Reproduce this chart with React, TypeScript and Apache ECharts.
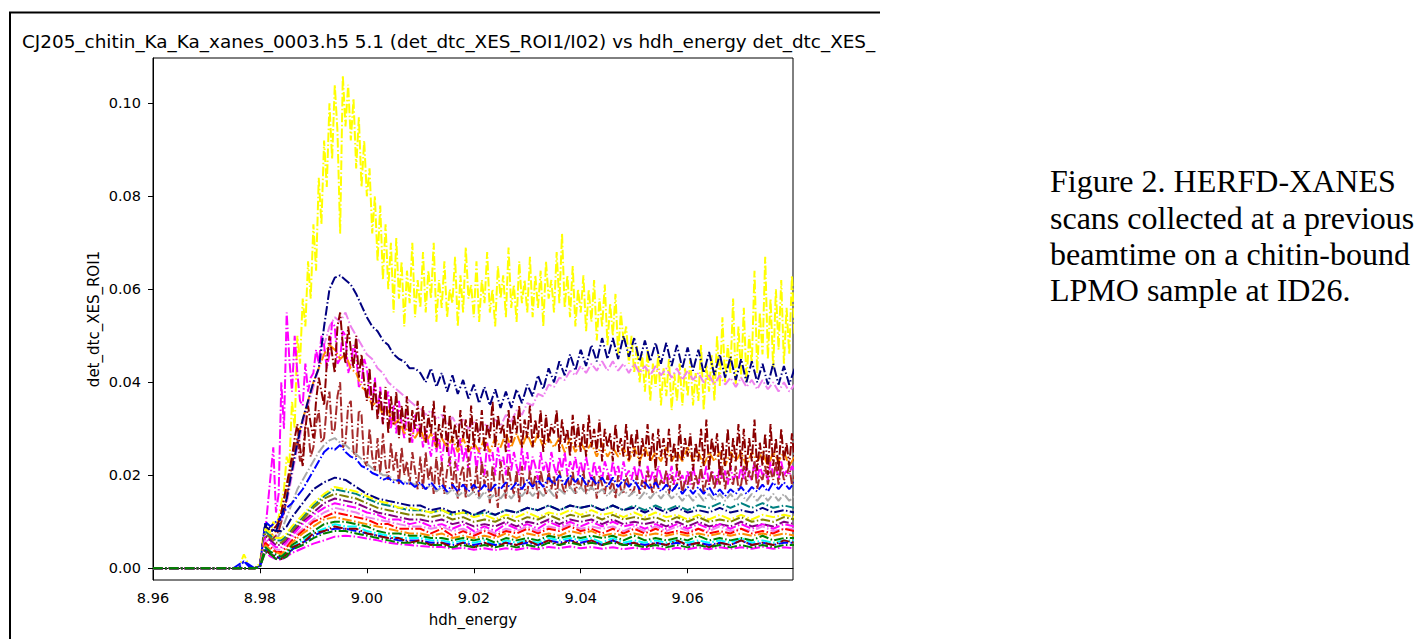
import React, { useEffect, useRef } from "react";
import * as echarts from "echarts";

// ---------- energy grids (keV) ----------
const edgePrefix = [8.96, 8.975, 8.976, 8.977, 8.978, 8.979, 8.98];
const halfEnergy: number[] = [...edgePrefix];
for (let i = 0; i <= 199; i++) halfEnergy.push(Math.round((8.9805 + i * 0.0005) * 10000) / 10000);
const fineEnergy: number[] = [8.96, 8.975];
for (let i = 0; i <= 104; i++) fineEnergy.push(Math.round((8.976 + i * 0.001) * 1000) / 1000);
const coarseEnergy: number[] = [8.96, 8.975, 8.977, 8.979, 8.98, 8.981, 8.982, 8.983, 8.984, 8.985];
for (let i = 0; i <= 47; i++) coarseEnergy.push(Math.round((8.986 + i * 0.002) * 1000) / 1000);

// ---------- tick labels ----------
const xTicks = [8.96, 8.98, 9.0, 9.02, 9.04, 9.06];
const yTicks = [0, 0.02, 0.04, 0.06, 0.08, 0.1];

// ---------- half-step scans (values in units of 1e-3) ----------
const yellowScan = [
  0, 0, 0, 3, 0.5, 0, 1,
  6, 9, 8, 8, 10, 9, 11, 14, 17, 24, 22, 36, 30, 50, 44, 58, 52, 66, 58, 74,
  64, 84, 74, 92, 82, 100, 88, 104, 94, 72, 106, 95, 104, 92, 101, 86, 97, 82, 92, 80,
  86, 72, 80, 66, 78, 62, 74, 60, 70, 55, 71, 58, 66, 52, 64, 57, 70, 54, 62, 56,
  68, 55, 64, 58, 70, 53, 62, 56, 66, 54, 60, 57, 67, 52, 63, 55, 69, 58, 61, 54,
  66, 53, 62, 57, 68, 55, 60, 52, 65, 58, 63, 54, 69, 56, 61, 53, 66, 57, 62, 55,
  67, 54, 63, 56, 64, 52, 66, 58, 62, 55, 68, 57, 72, 56, 63, 54, 65, 52, 60, 55,
  63, 51, 60, 53, 62, 49, 58, 52, 61, 48, 57, 50, 59, 46, 55, 49, 52, 44, 50, 42,
  48, 40, 46, 38, 47, 36, 44, 39, 46, 35, 43, 37, 45, 34, 42, 36, 44, 35, 43, 37,
  45, 35, 42, 36, 48, 34, 44, 38, 46, 36, 50, 39, 54, 40, 48, 42, 58, 39, 52, 41,
  56, 40, 50, 44, 64, 42, 55, 46, 67, 45, 58, 43, 60, 47, 62, 44, 56, 46, 63, 50,
];
const darkredScan = [
  0, 0, 0, 0, 0, 0, 0.5,
  5, 9, 8.5, 8, 8.5, 9, 10, 12, 15, 18, 21, 24, 28, 31, 26, 22, 30, 35, 31, 28,
  36, 41, 38, 35, 44, 50, 46, 42, 52, 55, 48, 44, 52, 47, 43, 50, 41, 46, 40, 36,
  43, 34, 40, 32, 38, 31, 39, 29, 37, 31, 38, 28, 35, 30, 37, 27, 34, 30, 36, 28,
  35, 27, 33, 29, 36, 26, 31, 28, 35, 25, 33, 27, 31, 26, 34, 28, 32, 25, 35, 26,
  32, 27, 34, 25, 31, 28, 36, 26, 33, 29, 31, 25, 34, 27, 33, 29, 35, 26, 32, 28,
  35, 26, 32, 28, 34, 25, 33, 27, 31, 29, 34, 25, 32, 27, 30, 24, 33, 26, 31, 25,
  31, 24, 33, 26, 30, 25, 32, 23, 30, 26, 29, 23, 31, 25, 28, 24, 31, 23, 29, 24,
  30, 22, 28, 24, 31, 23, 29, 21, 30, 24, 28, 22, 30, 23, 27, 21, 31, 23, 28, 24,
  29, 21, 27, 23, 30, 22, 32, 21, 28, 24, 29, 20, 27, 22, 30, 21, 28, 23, 31, 22,
  30, 21, 28, 23, 32, 21, 27, 22, 29, 20, 31, 22, 28, 21, 30, 23, 27, 22, 29, 23,
];
const brownScan = [
  0, 0, 0, 0, 0, 0, 0.5,
  4, 7, 6.5, 6, 6.5, 7, 8, 10, 12, 15, 19, 22, 26, 28, 23, 24, 31, 30, 24, 26,
  31, 34, 27, 28, 35, 38, 29, 30, 37, 40, 26, 27, 35, 36, 25, 24, 34, 33, 23, 22,
  30, 24, 21, 28, 20, 29, 22, 19, 27, 21, 25, 18, 26, 20, 23, 18, 25, 21, 17, 24,
  17, 25, 19, 22, 16, 24, 18, 23, 16, 21, 24, 17, 23, 15, 20, 22, 15, 24, 18, 16,
  22, 15, 23, 18, 21, 14, 22, 17, 13, 23, 19, 15, 22, 18, 16, 21, 14, 22, 17, 16,
  21, 17, 20, 15, 21, 18, 16, 21, 17, 20, 15, 21, 18, 16, 20, 17, 21, 16, 19, 17,
  21, 16, 19, 17, 20, 15, 20, 18, 16, 20, 17, 19, 15, 20, 17, 16, 20, 18, 16, 17,
  20, 16, 19, 17, 21, 18, 16, 20, 17, 19, 18, 21, 16, 20, 17, 18, 21, 16, 19, 18,
  21, 17, 20, 18, 22, 16, 19, 18, 21, 17, 20, 18, 22, 17, 21, 19, 18, 22, 17, 18,
  22, 18, 21, 19, 23, 17, 20, 19, 22, 18, 21, 19, 23, 18, 22, 19, 20, 22, 18, 20,
];
const magentaScan = [
  0, 0, 0, 0, 0, 0, 0.5,
  5, 8, 14, 20, 26, 12, 16, 40, 30, 55, 45, 38, 50, 42, 36, 35, 44, 38, 41, 42,
  47, 44, 50, 48, 43, 46, 53, 52, 44, 45, 51, 50, 42, 44, 48, 46, 39, 40, 45, 43,
  38, 35, 41, 33, 39, 31, 36, 38, 30, 35, 29, 36, 31, 28, 34, 30, 27, 33, 29, 31,
  26, 30, 27, 24, 29, 25, 28, 23, 27, 29, 22, 27, 24, 21, 28, 23, 26, 21, 25, 27,
  21, 26, 22, 20, 27, 23, 25, 20, 26, 22, 24, 20, 27, 21, 25, 22, 20, 26, 21, 25,
  20, 24, 22, 19, 25, 21, 23, 20, 25, 22, 20, 24, 21, 25, 20, 23, 21, 24, 20, 23,
  20, 24, 21, 19, 23, 20, 22, 19, 23, 21, 19, 23, 20, 22, 19, 23, 20, 21, 19, 22,
  19, 22, 20, 18, 22, 19, 21, 18, 22, 20, 18, 21, 19, 22, 18, 21, 19, 20, 18, 21,
  18, 22, 19, 18, 21, 19, 22, 18, 21, 20, 18, 22, 19, 21, 18, 22, 19, 20, 19, 22,
  19, 22, 20, 19, 23, 19, 22, 20, 21, 19, 23, 20, 22, 19, 23, 20, 21, 20, 22, 21,
];

// ---------- fine-grid scans (values in units of 1e-3) ----------
const navyScan = [
  0, 0, 0, 0, 0, 0, 0.5,
  9, 8, 8, 11, 15, 21, 27, 32, 36, 40,
  43, 52, 60, 62.5, 63, 62, 61, 59, 56.5, 54,
  52, 51, 49, 48, 46, 45, 44.5, 43, 43, 42,
  40, 43, 39, 42, 38, 41.5, 37.5, 40.5, 36.5, 39.5,
  35.5, 39, 35, 38.5, 34.5, 38, 34.5, 38.5, 35.5, 39.5,
  37, 41.5, 38.5, 43, 40, 44.5, 41.5, 46, 42.5, 47,
  43.5, 48, 44.5, 49.5, 45, 49.5, 45, 50, 45.5, 49.5,
  44.5, 49, 44.5, 48.5, 44, 48.5, 43.5, 48, 43, 47.5,
  42.5, 47, 42, 46.5, 41.5, 46, 41, 45.5, 40.5, 45,
  40, 44.5, 40, 44, 39.5, 44, 39.5, 43.5, 39.5, 43,
];
const violetScan = [
  0, 0, 0, 0, 0, 0, 0.5,
  8, 7, 7, 10, 14, 20, 26, 31, 35, 39,
  43, 48, 52, 54, 53, 55, 52, 50, 48, 46,
  45, 43, 42, 40, 39, 38, 37, 36, 35, 34.5,
  33, 34, 32, 33, 31, 32.5, 30.5, 32, 30, 31.5,
  29.5, 31, 30, 32, 30.5, 33, 31.5, 34, 33, 35.5,
  35, 37.5, 37, 39.5, 39, 41, 40.5, 42.5, 41.5, 43.5,
  42, 44, 42.5, 44.5, 42.5, 44.5, 42.5, 44, 42, 44,
  42, 43.5, 41.5, 43.5, 41.5, 43, 41, 43, 40.5, 42.5,
  40.5, 42, 40, 41.5, 39.5, 41.5, 39.5, 41, 39, 41,
  39, 40.5, 38.5, 40.5, 38.5, 40, 38, 40, 38, 39.5,
];
const orangeScan = [
  0, 0, 0, 0, 0, 0, 0.5,
  8, 7, 8, 12, 17, 23, 28, 32, 36, 40,
  43, 46, 48, 47, 45, 46, 43, 42, 39, 38,
  35, 36, 33, 34, 31, 32, 29, 31, 28, 30,
  27, 29, 26, 28, 26, 28, 25, 28, 25, 27,
  25, 28, 25, 28, 26, 29, 26, 29, 26, 29,
  26, 29, 26, 28, 26, 28, 25, 28, 25, 27,
  25, 27, 24, 27, 24, 26, 24, 26, 23, 26,
  23, 26, 23, 25, 23, 26, 23, 25, 23, 26,
  23, 25, 22, 25, 23, 25, 22, 25, 23, 25,
  22, 25, 23, 25, 22, 25, 23, 25, 22, 24,
];
const grayScan = [
  0, 0, 0, 0, 0, 0, 0.5,
  8, 7, 6, 8, 11, 14, 17, 19, 21, 23,
  25, 26.5, 27.5, 28, 27, 26.5, 25.5, 24.5, 23.5, 22.5,
  21.5, 21, 20, 20, 19, 19, 18.5, 18.5, 18, 18,
  17, 18, 16.5, 17.5, 16, 17, 15.5, 16.5, 15.5, 16.5,
  15, 16.5, 15, 16, 15, 16.5, 15, 16.5, 15.5, 17,
  15.5, 17, 15.5, 17, 15.5, 17, 16, 17.5, 16, 17.5,
  16, 17.5, 16, 17, 15.5, 17, 15.5, 17, 15.5, 16.5,
  15, 16.5, 15, 16.5, 15, 16.5, 15, 16, 14.5, 16,
  14.5, 16, 14.5, 16, 14.5, 16, 14.5, 16, 14.5, 16,
  14.5, 16, 14.5, 16, 14.5, 16, 14.5, 16, 14.5, 15.5,
];
const blueScan = [
  0, 0, 0, 1.5, 0.3, 0, 0.5,
  10, 9, 10, 11, 13, 14, 15.5, 17, 19, 21,
  23, 25, 26, 25.5, 26.5, 25, 24, 23.5, 22, 21.5,
  20.5, 20, 19, 19.5, 18.5, 19, 18, 18.5, 17.5, 18.5,
  17, 18.5, 17, 18, 16.5, 18, 16.5, 18, 16.5, 18,
  16.5, 18, 16.5, 18, 17, 18.5, 17, 18.5, 17, 19,
  17.5, 19, 17.5, 19.5, 18, 20, 18, 20, 18.5, 20,
  18, 19.5, 18, 19.5, 17.5, 19.5, 17.5, 19, 17.5, 19,
  17, 18.5, 17, 18.5, 16.5, 18, 16.5, 18, 16, 17.5,
  16, 17.5, 16, 17.5, 15.5, 17, 15.5, 17, 16, 17.5,
  16, 17.5, 16.5, 18, 16.5, 18.5, 17, 18.5, 17, 18.5,
];

// ---------- coarse-grid scans (values in units of 1e-3) ----------
const tealScan = [
  0, 0, 0, 0, 0.3, 8, 7, 6, 6, 7,
  8.5, 11, 13.5, 15.5, 17, 16.5, 16, 15,
  14, 13.5, 13, 12.5, 12.5, 12, 12.5, 11.5, 12, 11.5,
  12, 11.5, 12.5, 12, 13, 12.5, 13.5, 12.5, 13.5, 13,
  13.5, 12.5, 13.5, 12.5, 13.5, 12.5, 13.5, 12.5, 13.5, 12.5,
  13.5, 13, 14, 13, 14, 13, 14, 13, 13.5, 13,
];
const navy2Scan = [
  0, 0, 0, 0, 0.3, 9.5, 8.5, 8, 8, 9,
  11, 14, 17, 18.5, 19.5, 19, 17.5, 16,
  15, 14.5, 14, 13.5, 13.5, 12.5, 13, 12, 12.5, 11.5,
  12.5, 11.5, 12.5, 12, 13, 12.5, 13.5, 12.5, 13.5, 13,
  13.5, 12.5, 13.5, 12.5, 13, 12, 13, 12, 13, 12,
  12.5, 12, 13, 12, 12.5, 12, 13, 12, 12.5, 12,
];
const yellow2Scan = [
  0, 0, 0, 0, 0.3, 8.5, 7.5, 6.5, 6.5, 7.5,
  9, 11.5, 14, 16, 17.5, 17, 16.5, 15.5,
  14.5, 14, 13, 13, 12.5, 12, 12.5, 11.5, 12, 11,
  11.5, 10.5, 11.5, 11, 12, 11, 12, 11.5, 12.5, 11.5,
  12.5, 11.5, 12, 11, 12, 11, 12, 11, 11.5, 10.5,
  11.5, 10.5, 11.5, 10.5, 11.5, 10.5, 11.5, 11, 11.5, 11,
];
const oliveScan = [
  0, 0, 0, 0, 0.3, 7.5, 6.5, 5.5, 5.5, 6.5,
  8, 10.5, 13, 15, 16, 15.5, 15, 14,
  13, 12.5, 12, 11.5, 11.5, 11, 11.5, 10.5, 11, 10,
  10.5, 10, 11, 10, 11, 10.5, 11.5, 10.5, 11.5, 11,
  11.5, 10.5, 11.5, 10.5, 11, 10.5, 11, 10, 11, 10,
  11, 10, 10.5, 10, 11, 10, 10.5, 10, 11, 10.5,
];
const purpleScan = [
  0, 0, 0, 0, 0.3, 7, 6, 5, 5, 6,
  7.5, 10, 12, 14, 15, 14.5, 14, 13,
  12, 11.5, 11, 10.5, 10.5, 10, 10.5, 9.5, 10, 9,
  9.5, 9, 10, 9, 10, 9.5, 10.5, 9.5, 10.5, 10,
  10.5, 9.5, 10.5, 9.5, 10, 9.5, 10, 9, 10, 9,
  10, 9, 9.5, 9, 10, 9, 9.5, 9, 10, 9.5,
];
const magenta2Scan = [
  0, 0, 0, 0, 0.3, 6.5, 5.5, 4.5, 4.5, 5.5,
  7, 9.5, 11.5, 13, 14, 13.5, 13, 12,
  11.5, 10.5, 10.5, 9.5, 10, 9, 9.5, 8.5, 9.5, 8,
  9, 8, 9.5, 8.5, 9.5, 8.5, 10, 9, 10, 9,
  10, 9, 10, 9, 9.5, 8.5, 9.5, 8.5, 9.5, 8.5,
  9.5, 8.5, 9.5, 8.5, 9.5, 8.5, 9.5, 8.5, 9.5, 9,
];
const violet2Scan = [
  0, 0, 0, 0, 0.3, 6, 5, 4, 4, 5,
  6.5, 8.5, 10.5, 12, 13, 12.5, 12, 11,
  10.5, 10, 9.5, 9, 9, 8.5, 9, 8, 8.5, 7.5,
  8.5, 7.5, 8.5, 8, 9, 8, 9, 8.5, 9.5, 8.5,
  9, 8.5, 9, 8, 9, 8, 9, 8, 9, 8,
  8.5, 8, 9, 8, 8.5, 8, 9, 8, 8.5, 8.5,
];
const redScan = [
  0, 0, 0, 0, 0.3, 5.5, 4.5, 3.5, 3.5, 4.5,
  6, 8, 10, 11, 12, 11.5, 11, 10.5,
  9.5, 9.5, 8.5, 8.5, 8.5, 7.5, 8.5, 7, 8, 7,
  8, 7, 8, 7.5, 8.5, 7.5, 8.5, 8, 9, 8,
  8.5, 7.5, 8.5, 7.5, 8.5, 7.5, 8.5, 7.5, 8, 7.5,
  8.5, 7.5, 8, 7.5, 8.5, 7.5, 8, 7.5, 8.5, 8,
];
const darkorange2Scan = [
  0, 0, 0, 0, 0.3, 5, 4, 3.5, 3, 4,
  5.5, 7.5, 9, 10.5, 11, 10.5, 10, 9.5,
  9, 8.5, 8, 7.5, 7.5, 7, 7.5, 6.5, 7, 6.5,
  7, 6.5, 7.5, 6.5, 7.5, 7, 7.5, 7, 8, 7.5,
  8, 7, 7.5, 7, 7.5, 7, 7.5, 7, 7.5, 7,
  7.5, 7, 7.5, 7, 7.5, 7, 7.5, 7, 7.5, 7,
];
const cyanScan = [
  0, 0, 0, 0, 0.3, 4.5, 3.5, 2.5, 2.5, 3.5,
  4.5, 6, 7.5, 8.5, 9.5, 9, 9, 8,
  7.5, 7, 6.5, 6.5, 6.5, 6, 6, 5.5, 6, 5.5,
  6, 5, 6, 5.5, 6, 5.5, 6.5, 6, 6.5, 6,
  6.5, 5.5, 6.5, 5.5, 6, 5.5, 6, 5.5, 6, 5.5,
  6, 5.5, 6, 5.5, 6.5, 5.5, 6, 5.5, 6, 6,
];
const blue2Scan = [
  0, 0, 1.5, 0, 0.3, 4, 3, 2.5, 2, 3,
  4, 5.5, 7, 8, 8.5, 8.5, 8, 7.5,
  7, 6.5, 6, 6, 6, 5.5, 5.5, 5, 5.5, 5,
  5.5, 5, 5.5, 5, 5.5, 5, 6, 5.5, 6, 5.5,
  6, 5, 6, 5, 5.5, 5, 5.5, 5, 5.5, 5,
  5.5, 5, 5.5, 5, 6, 5, 5.5, 5, 5.5, 5.5,
];
const darkred2Scan = [
  0, 0, 0, 0, 0.3, 4, 3, 2.5, 2, 3,
  4.5, 5.5, 7.5, 8, 9, 8.5, 8.5, 7.5,
  7, 6.5, 6.5, 5.5, 6, 5, 5.5, 4.5, 5.5, 4.5,
  5.5, 4.5, 5.5, 5, 6, 5, 6, 5, 6, 5,
  6, 5, 6, 5, 5.5, 4.5, 5.5, 5, 6, 5,
  5.5, 4.5, 5.5, 5, 6, 5, 5.5, 5, 6, 5.5,
];
const magenta3Scan = [
  0, 0, 0, 0, 0.3, 3.5, 2.5, 2, 1.8, 2.5,
  3.3, 4.3, 5.3, 6, 6.8, 7, 6.8, 6.4,
  6, 5.5, 5.2, 5, 4.8, 4.6, 4.6, 4.2, 4.4, 4,
  4.3, 3.9, 4.3, 4, 4.4, 4.1, 4.6, 4.3, 4.7, 4.3,
  4.6, 4.2, 4.5, 4.1, 4.4, 4.1, 4.4, 4, 4.4, 4.1,
  4.5, 4.1, 4.5, 4.2, 4.5, 4.2, 4.6, 4.2, 4.5, 4.3,
];
const greenScan = [
  0, 0, 0, 0, 0.3, 4.5, 3.5, 3, 2.5, 3.5,
  5, 6.5, 8, 9.5, 10, 10, 9.5, 9,
  8, 7.5, 7.5, 7, 7, 6.5, 6.5, 6, 6.5, 6,
  6.5, 5.5, 6.5, 6, 6.5, 6, 7, 6.5, 7, 6.5,
  7, 6.5, 7, 6, 7, 6, 6.5, 6, 6.5, 6,
  7, 6, 6.5, 6, 6.5, 6, 7, 6, 6.5, 6.5,
];
const green2Scan = [
  0, 0, 0, 0, 0.3, 3.5, 3, 2, 2, 2.5,
  4, 5, 6.5, 7.5, 8, 8, 7.5, 7,
  6.5, 6, 5.5, 5.5, 5.5, 5, 5, 4.5, 5, 4.5,
  5, 4.5, 5, 4.5, 5, 4.5, 5.5, 5, 5.5, 5,
  5.5, 5, 5.5, 5, 5, 4.5, 5, 4.5, 5, 4.5,
  5, 4.5, 5, 4.5, 5, 4.5, 5, 4.5, 5, 5,
];

type Scan = [string, string, number[], number[]];
// draw order: first listed is drawn first (bottom)
const scans: Scan[] = [
  ["scan yellow", "#ffff00", halfEnergy, yellowScan],
  ["scan violet", "#ee82ee", fineEnergy, violetScan],
  ["scan magenta", "#ff00ff", halfEnergy, magentaScan],
  ["scan darkorange", "#ff8c00", fineEnergy, orangeScan],
  ["scan brown", "#a52a2a", halfEnergy, brownScan],
  ["scan darkred", "#8b0000", halfEnergy, darkredScan],
  ["scan navy", "#000080", fineEnergy, navyScan],
  ["scan darkgray", "#a9a9a9", fineEnergy, grayScan],
  ["scan blue", "#0000ff", fineEnergy, blueScan],
  ["scan teal", "#008080", coarseEnergy, tealScan],
  ["scan navy 2", "#000080", coarseEnergy, navy2Scan],
  ["scan yellow 2", "#ffff00", coarseEnergy, yellow2Scan],
  ["scan olive", "#808000", coarseEnergy, oliveScan],
  ["scan purple", "#800080", coarseEnergy, purpleScan],
  ["scan magenta 2", "#ff00ff", coarseEnergy, magenta2Scan],
  ["scan violet 2", "#ee82ee", coarseEnergy, violet2Scan],
  ["scan red", "#ff0000", coarseEnergy, redScan],
  ["scan darkorange 2", "#ff8c00", coarseEnergy, darkorange2Scan],
  ["scan cyan", "#00ffff", coarseEnergy, cyanScan],
  ["scan blue 2", "#0000ff", coarseEnergy, blue2Scan],
  ["scan darkred 2", "#8b0000", coarseEnergy, darkred2Scan],
  ["scan magenta 3", "#ff00ff", coarseEnergy, magenta3Scan],
  ["scan green", "#008000", coarseEnergy, greenScan],
  ["scan green 2", "#008000", coarseEnergy, green2Scan],
];

const titleText =
  "CJ205_chitin_Ka_Ka_xanes_0003.h5 5.1 (det_dtc_XES_ROI1/I02) vs hdh_energy det_dtc_XES_";
const captionLines = [
  "Figure 2. HERFD-XANES",
  "scans collected at a previous",
  "beamtime on a chitin-bound",
  "LPMO sample at ID26.",
];

const SANS = "DejaVu Sans";

export default function App() {
  const ref = useRef<HTMLDivElement>(null);

  useEffect(() => {
    if (!ref.current) return;
    const chart = echarts.init(ref.current, undefined, { renderer: "svg" });

    const series = scans.map(([name, color, xs, ys]) => ({
      name,
      type: "line",
      data: xs.map((x, i) => [x, ys[i] / 1000]),
      showSymbol: false,
      symbol: "none",
      silent: true,
      clip: true,
      lineStyle: { color, width: 2, type: [9.6, 2.4, 1.5, 2.4] },
      itemStyle: { color },
    }));

    const captionMid = [181, 217.5, 253.5, 290];

    chart.setOption({
      animation: false,
      backgroundColor: "#ffffff",
      title: {
        text: titleText,
        left: 22,
        top: 32,
        padding: 0,
        textStyle: { fontFamily: SANS, fontSize: 18.4, fontWeight: "normal", color: "#000" },
      },
      grid: {
        left: 153,
        right: 630,
        top: 58,
        bottom: 59,
        show: true,
        borderColor: "#000",
        borderWidth: 1,
        outerBoundsMode: "none",
        containLabel: false,
      },
      xAxis: {
        type: "value",
        min: 8.96,
        max: 9.0797,
        name: "hdh_energy",
        nameLocation: "middle",
        nameGap: 32,
        nameTextStyle: { fontFamily: SANS, fontSize: 15, color: "#000" },
        axisLine: { show: true, lineStyle: { color: "#000", width: 1 } },
        axisTick: { show: true, inside: false, length: 5, customValues: xTicks, lineStyle: { color: "#000" } },
        axisLabel: {
          customValues: xTicks,
          formatter: (v: number) => v.toFixed(2),
          fontFamily: SANS,
          fontSize: 14.5,
          color: "#000",
          margin: 10,
        },
        splitLine: { show: false },
      },
      yAxis: {
        type: "value",
        min: -0.00252,
        max: 0.10974,
        name: "det_dtc_XES_ROI1",
        nameLocation: "middle",
        nameGap: 52,
        nameTextStyle: { fontFamily: SANS, fontSize: 15, color: "#000" },
        axisLine: { show: true, lineStyle: { color: "#000", width: 1 } },
        axisTick: { show: true, inside: false, length: 5, customValues: yTicks, lineStyle: { color: "#000" } },
        axisLabel: {
          customValues: yTicks,
          formatter: (v: number) => v.toFixed(2),
          fontFamily: SANS,
          fontSize: 14.5,
          color: "#000",
          margin: 12,
        },
        splitLine: { show: false },
      },
      graphic: [
        {
          type: "line",
          shape: { x1: 9, y1: 12.5, x2: 880, y2: 12.5 },
          style: { stroke: "#000", lineWidth: 2 },
          silent: true,
        },
        {
          type: "line",
          shape: { x1: 10, y1: 12, x2: 10, y2: 639 },
          style: { stroke: "#000", lineWidth: 2 },
          silent: true,
        },
        ...captionLines.map((t, i) => ({
          type: "text",
          x: 1050,
          y: captionMid[i],
          silent: true,
          style: {
            text: t,
            fontFamily: "Liberation Serif",
            fontSize: 32,
            fill: "#000",
            align: "left",
            verticalAlign: "middle",
          },
        })),
      ],
      series,
    });

    return () => chart.dispose();
  }, []);

  return (
    <div
      ref={ref}
      style={{ position: "absolute", left: 0, top: 0, width: 1423, height: 639, background: "#fff" }}
    />
  );
}
